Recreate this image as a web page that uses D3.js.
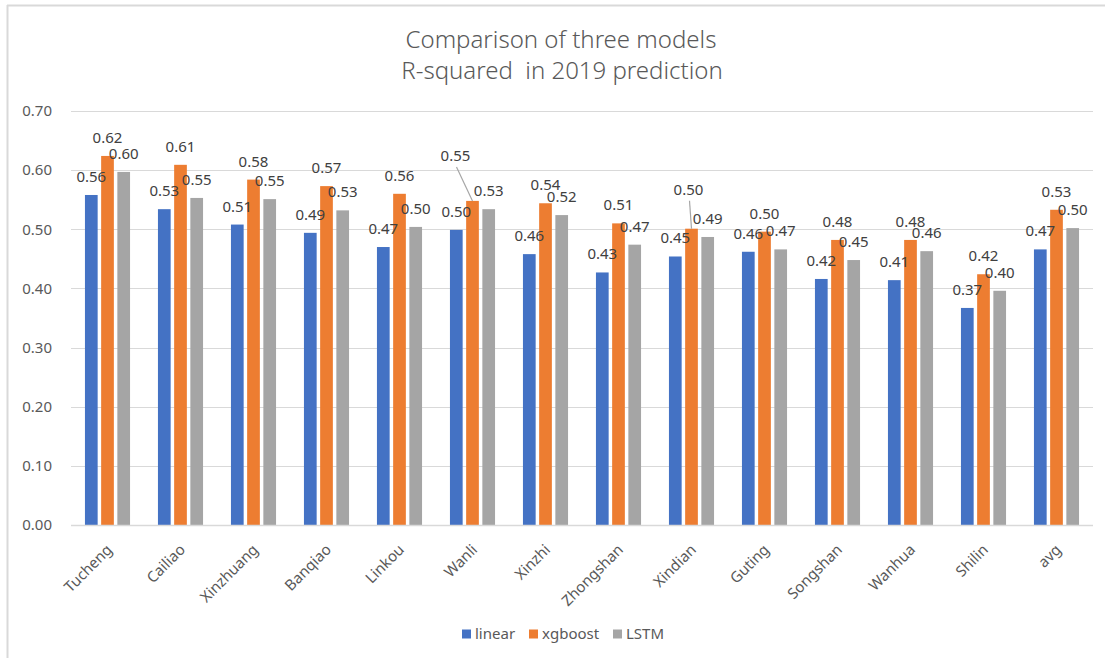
<!DOCTYPE html>
<html>
<head>
<meta charset="utf-8">
<script src="https://cdn.jsdelivr.net/npm/d3@7"></script>
<style>
  html, body { margin: 0; padding: 0; background: #fff; }
  svg { display: block; }
  text { font-family: "Noto Sans", "Open Sans", sans-serif; white-space: pre; }
</style>
</head>
<body>
<svg id="chart" width="1105" height="658"></svg>
<script>
// Stations compared, plus the overall average
const categories = ["Tucheng", "Cailiao", "Xinzhuang", "Banqiao", "Linkou", "Wanli", "Xinzhi",
  "Zhongshan", "Xindian", "Guting", "Songshan", "Wanhua", "Shilin", "avg"];

// R-squared per model
const linear  = [0.558, 0.534, 0.508, 0.494, 0.470, 0.499, 0.458, 0.427, 0.454, 0.462, 0.416, 0.414, 0.367, 0.466];
const xgboost = [0.624, 0.609, 0.584, 0.573, 0.560, 0.548, 0.544, 0.510, 0.501, 0.496, 0.482, 0.482, 0.424, 0.533];
const lstm    = [0.597, 0.553, 0.551, 0.532, 0.504, 0.534, 0.524, 0.474, 0.487, 0.466, 0.448, 0.463, 0.396, 0.502];

const seriesNames = ["linear", "xgboost", "LSTM"];
const yTicks = [0, 0.1, 0.2, 0.3, 0.4, 0.5, 0.6, 0.7];

const series = [
  { name: "linear",  values: linear,  color: "#4472C4" },
  { name: "xgboost", values: xgboost, color: "#ED7D31" },
  { name: "LSTM",    values: lstm,    color: "#A5A5A5" }
];

// Labels dragged away from their bars, joined back by a leader line
const movedLabels = [
  { series: "xgboost", category: "Wanli",   dx: -17, dy: -27 },
  { series: "xgboost", category: "Xindian", dx: -3,  dy: -21 }
];

const svg = d3.select("#chart");

// Chart frame (left and top edges)
svg.append("line").attr("x1", 7.5).attr("x2", 7.5).attr("y1", 5).attr("y2", 658)
  .attr("stroke", "#D9D9D9").attr("stroke-width", 2);
svg.append("line").attr("x1", 7).attr("x2", 1105).attr("y1", 5.5).attr("y2", 5.5)
  .attr("stroke", "#D9D9D9").attr("stroke-width", 2);

// Title
const title = svg.append("text").attr("text-anchor", "middle")
  .attr("fill", "#595959").attr("font-size", 24).attr("font-weight", 300);
title.append("tspan").attr("x", 561).attr("y", 48).text("Comparison of three models");
title.append("tspan").attr("x", 562).attr("y", 79).text("R-squared  in 2019 prediction");

const x0 = d3.scaleBand().domain(categories).range([71, 1093]).padding(0);
const x1 = d3.scaleBand().domain(seriesNames).range([0, 45.1]).paddingInner(0.216);
const y = d3.scaleLinear().domain([0, 0.7]).range([525, 111]);
const groupOffset = (x0.bandwidth() - 45.1) / 2;

// Gridlines
svg.append("g").selectAll("line").data(yTicks.slice(1)).join("line")
  .attr("x1", 71).attr("x2", 1093)
  .attr("y1", d => Math.round(y(d)) + 0.5).attr("y2", d => Math.round(y(d)) + 0.5)
  .attr("stroke", "#D9D9D9").attr("stroke-width", 1.2);

// Y axis labels
const yAxis = svg.append("g").attr("transform", "translate(52,0)")
  .call(d3.axisLeft(y).tickValues(yTicks).tickFormat(d3.format(".2f")).tickSize(0).tickPadding(0));
yAxis.select(".domain").remove();
yAxis.selectAll("text").attr("font-size", 15).attr("fill", "#595959")
  .attr("font-family", "Noto Sans, Open Sans, sans-serif");

// Bars
const groups = svg.append("g").selectAll("g").data(categories).join("g")
  .attr("transform", d => `translate(${x0(d) + groupOffset},0)`);

groups.selectAll("rect")
  .data((c, i) => series.map(s => ({ cat: c, name: s.name, color: s.color, v: s.values[i] })))
  .join("rect")
  .attr("x", d => x1(d.name))
  .attr("width", x1.bandwidth())
  .attr("y", d => y(d.v))
  .attr("height", d => y(0) - y(d.v))
  .attr("fill", d => d.color);

// Category axis line
svg.append("line").attr("x1", 71).attr("x2", 1093).attr("y1", 525.5).attr("y2", 525.5)
  .attr("stroke", "#D9D9D9").attr("stroke-width", 1.5);

// Category labels, rotated
svg.append("g").selectAll("text").data(categories).join("text")
  .attr("transform", d => `translate(${x0(d) + x0.bandwidth() / 2 - 2},543) rotate(-45)`)
  .attr("text-anchor", "end").attr("dy", "0.72em")
  .attr("font-size", 15).attr("fill", "#595959")
  .text(d => d);

// Data labels
const labelData = [];
series.forEach(s => {
  s.values.forEach((v, i) => {
    const cat = categories[i];
    const cx = x0(cat) + groupOffset + x1(s.name) + x1.bandwidth() / 2;
    const moved = movedLabels.find(m => m.series === s.name && m.category === cat);
    labelData.push({ v, cx, top: y(v), moved });
  });
});

const leaders = labelData.filter(d => d.moved);
svg.append("g").selectAll("line").data(leaders).join("line")
  .attr("x1", d => d.cx + d.moved.dx + 1)
  .attr("y1", d => d.top - 13 + d.moved.dy + 6)
  .attr("x2", d => d.cx)
  .attr("y2", d => d.top)
  .attr("stroke", "#A6A6A6").attr("stroke-width", 1.2);

svg.append("g").selectAll("text").data(labelData).join("text")
  .attr("x", d => d.cx + (d.moved ? d.moved.dx : 0))
  .attr("y", d => d.top - 13 + (d.moved ? d.moved.dy : 0))
  .attr("text-anchor", "middle")
  .attr("font-size", 15).attr("fill", "#404040")
  .text(d => d.v.toFixed(2));

// Legend
const legend = svg.append("g").attr("transform", "translate(0,634)");
const legendX = [462, 529, 613];
const leg = legend.selectAll("g").data(series).join("g")
  .attr("transform", (d, i) => `translate(${legendX[i]},0)`);
leg.append("rect").attr("x", 0).attr("y", -4.5).attr("width", 9).attr("height", 9)
  .attr("fill", d => d.color);
leg.append("text").attr("x", 13).attr("y", 0).attr("dy", "0.35em")
  .attr("font-size", 15).attr("fill", "#595959").text(d => d.name);
</script>
</body>
</html>
